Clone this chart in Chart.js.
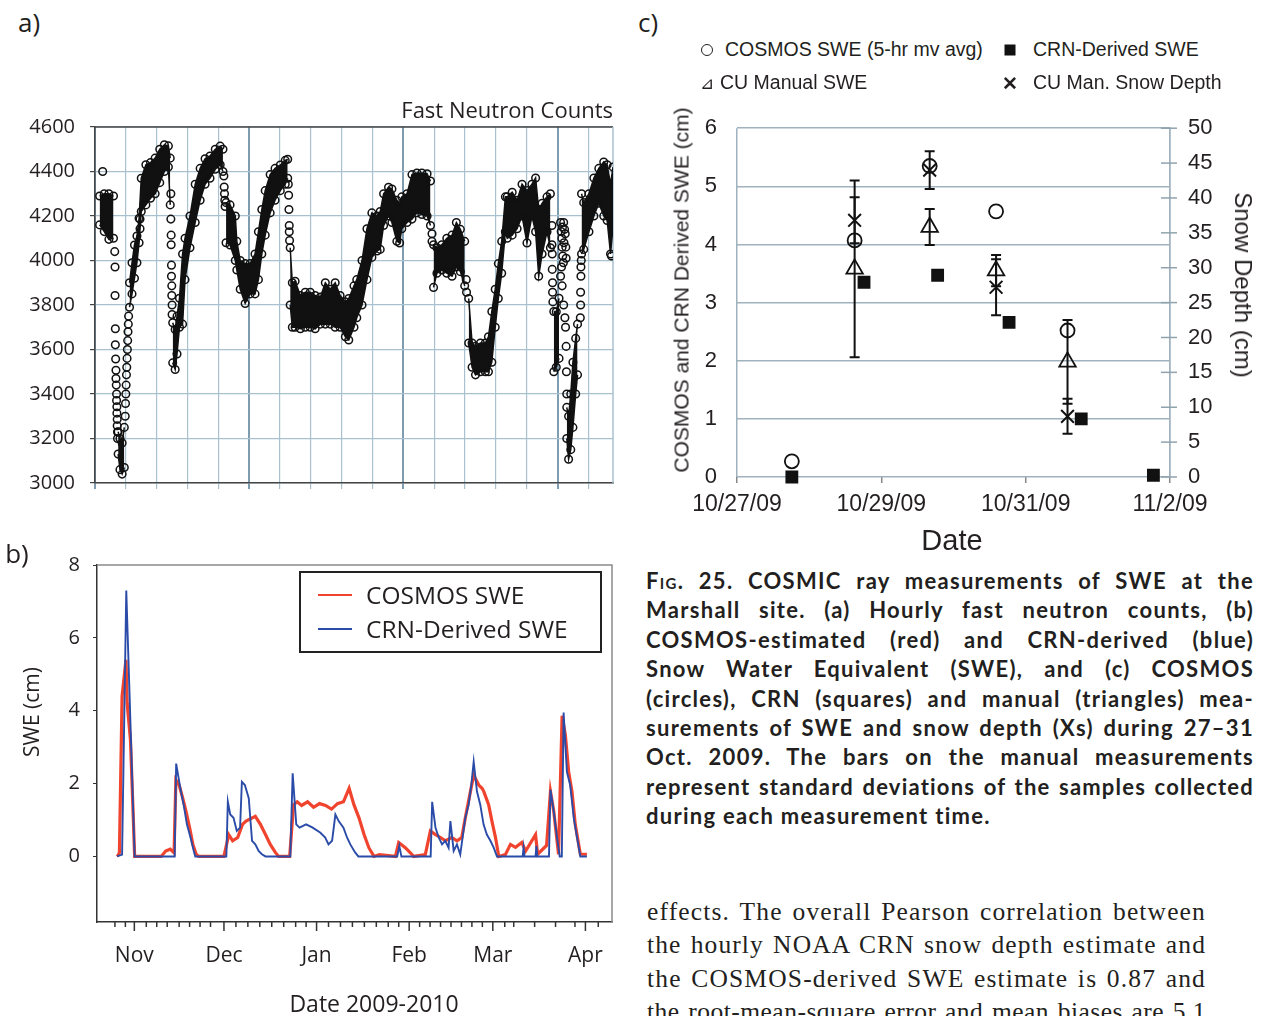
<!DOCTYPE html>
<html>
<head>
<meta charset="utf-8">
<script src="https://cdn.jsdelivr.net/npm/chart.js@4.4.1/dist/chart.umd.min.js"></script>
<style>
html, body { margin: 0; padding: 0; background: #fff; }
body { width: 1266px; height: 1016px; position: relative; overflow: hidden; font-family: 'Open Sans', sans-serif; color: #231f20; }
canvas { position: absolute; }
.t { position: absolute; white-space: nowrap; line-height: 1; }
.mid { transform: translate(-50%, -50%); }
.lft { transform: translateY(-50%); }
.rot { transform: translate(-50%, -50%) rotate(-90deg); }
.rotcw { transform: translate(-50%, -50%) rotate(90deg); }
.arial { font-family: 'Liberation Sans', Arial, sans-serif; }
.j { position: absolute; white-space: nowrap; line-height: 1; text-align: justify; text-align-last: justify; transform: translateY(-50%); transform-origin: left center; }
.cap { font-family: Lato, 'Open Sans', sans-serif; font-weight: 700; font-size: 22px; left: 646px; width: 608px; }
.body { font-family: 'Liberation Serif', serif; font-size: 25.5px; left: 647px; width: 559px; }
.sc { font-variant: small-caps; }
#legendB { position: absolute; left: 299px; top: 571px; width: 299px; height: 78px; border: 2px solid #222; }
.lkey { position: absolute; left: 17px; width: 34px; height: 0; border-top: 2.5px solid; }
</style>
</head>
<body>
<canvas id="chartA" width="625" height="410" style="left:0;top:100px"></canvas>
<canvas id="chartB" width="625" height="476" style="left:0;top:540px"></canvas>
<canvas id="chartC" width="626" height="430" style="left:640px;top:95px"></canvas>

<div class="t mid" style="left:29px;top:22px;font-size:26px">a)</div>
<div class="t lft" style="right:653px;top:109px;font-size:22px">Fast Neutron Counts</div>
<div class="t mid" style="left:17px;top:553px;font-size:26px">b)</div>
<div class="t rot" style="left:31px;top:712px;font-size:21px">SWE (cm)</div>
<div class="t mid" style="left:374px;top:1003px;font-size:23px">Date 2009-2010</div>
<div id="legendB">
  <div class="lkey" style="top:21px;border-color:#f0442e"></div>
  <div class="t lft" style="left:65px;top:22px;font-size:24.5px">COSMOS SWE</div>
  <div class="lkey" style="top:55px;border-color:#2a4ba8"></div>
  <div class="t lft" style="left:65px;top:56px;font-size:24.5px">CRN-Derived SWE</div>
</div>

<div class="t mid" style="left:648px;top:22px;font-size:26px">c)</div>
<div class="t mid" style="left:707px;top:50px;width:10px;height:10px;border:1.6px solid #222;border-radius:50%"></div>
<div class="t lft arial" style="left:725px;top:50px;font-size:19.5px">COSMOS SWE (5-hr mv avg)</div>
<div class="t mid" style="left:1010px;top:50px;width:11px;height:11px;background:#111"></div>
<div class="t lft arial" style="left:1033px;top:50px;font-size:19.5px">CRN-Derived SWE</div>
<div class="t lft arial" style="left:700px;top:83px;font-size:17px">⊿</div>
<div class="t lft arial" style="left:720px;top:83px;font-size:19.5px">CU Manual SWE</div>
<div class="t mid arial" style="left:1010px;top:83px;font-size:19px;font-weight:700">✕</div>
<div class="t lft arial" style="left:1033px;top:83px;font-size:19.5px">CU Man. Snow Depth</div>
<div class="t rot arial" style="left:681px;top:290px;font-size:21px">COSMOS and CRN Derived SWE (cm)</div>
<div class="t rotcw arial" style="left:1243px;top:285px;font-size:24px">Snow Depth (cm)</div>
<div class="t mid arial" style="left:952px;top:540px;font-size:29px">Date</div>

<div class="j cap" style="top:581px"><span class="sc">Fig.</span> 25. COSMIC ray measurements of SWE at the</div>
<div class="j cap" style="top:610px">Marshall site. (a) Hourly fast neutron counts, (b)</div>
<div class="j cap" style="top:640px">COSMOS-estimated (red) and CRN-derived (blue)</div>
<div class="j cap" style="top:669px">Snow Water Equivalent (SWE), and (c) COSMOS</div>
<div class="j cap" style="top:699px">(circles), CRN (squares) and manual (triangles) mea-</div>
<div class="j cap" style="top:728px">surements of SWE and snow depth (Xs) during 27–31</div>
<div class="j cap" style="top:757px">Oct. 2009. The bars on the manual measurements</div>
<div class="j cap" style="top:787px">represent standard deviations of the samples collected</div>
<div class="j cap last" style="top:816px;text-align-last:left">during each measurement time.</div>

<div class="j body" style="top:912px">effects. The overall Pearson correlation between</div>
<div class="j body" style="top:945px">the hourly NOAA CRN snow depth estimate and</div>
<div class="j body" style="top:979px">the COSMOS-derived SWE estimate is 0.87 and</div>
<div class="j body" style="top:1012px">the root-mean-square error and mean biases are 5.1</div>

<script>
'use strict';

// Panel a: hourly fast neutron counts. The dense cloud of circles is read
// as a band (low / high edge) per x position; null breaks the band.
var aDay = [1.5, 3.0, 4.5, 6.0, 6.3, 7.5, 8.1, 8.8, 9.5, 9.8,
  11.2, 12.0, 12.8, 13.6, 14.3, 15.0, 16.5, 18.0, 19.5, 21.0,
  22.5, 23.8, 24.4, 24.8, 25.2, 26.0, 26.6, 27.4, 28.4, 29.2,
  30.8, 32.5, 34.1, 35.7, 37.3, 39.0, 40.6, 41.5, 41.8, 42.5,
  43.8, 45.5, 46.0, 47.1, 48.7, 50.3, 51.9, 53.0, 54.1, 55.2,
  56.8, 58.4, 60.1, 61.7, 62.5, 62.6, 63.3, 64.0, 64.9, 66.6,
  68.2, 69.8, 71.4, 73.1, 74.7, 76.3, 77.9, 79.5, 81.2, 82.3,
  84.0, 84.9, 86.6, 88.2, 89.8, 91.5, 92.5, 93.6, 95.2, 96.3,
  97.9, 98.8, 99.5, 101.2, 102.8, 104.4, 106.0, 107.7, 108.8, 109.3,
  109.8, 110.9, 112.5, 114.1, 115.8, 117.2, 118.5, 119.9, 120.3, 121.2,
  122.3, 123.4, 125.0, 126.6, 127.6, 128.7, 129.8, 130.8, 131.9, 133.1,
  133.7, 135.3, 136.9, 138.5, 140.1, 141.7, 142.9, 143.9, 145.0, 146.6,
  147.7, 148.0, 148.8, 149.6, 150.5, 151.0, 153.0, 153.6, 154.3, 155.0,
  155.9, 156.5, 157.2, 157.8, 158.5, 160.2, 161.8, 163.4, 165.0, 166.1,
  167.2, 168.0];
var aLo = [4160, 4130, 4095, 4100, null, 3130, 3060, 3040, 3070, null,
  3790, 3850, 3920, 3990, 4080, 4220, 4250, 4280, 4300, 4350,
  4400, 4420, 4250, null, 3540, 3510, 3580, 3700, 3714, 3914,
  4057, 4171, 4271, 4343, 4370, 4410, 4430, 4400, null, 4080,
  4070, 4000, 3957, 3871, 3807, 3850, 3850, 3914, 4029, 4114,
  4214, 4271, 4314, 4343, 4370, null, 3800, 3700, 3700, 3693,
  3700, 3700, 3693, 3714, 3714, 3714, 3700, 3700, 3657, 3643,
  3700, 3743, 3800, 3914, 4014, 4043, 4050, 4157, 4200, 4171,
  4086, 4079, 4143, 4171, 4186, 4214, 4207, 4200, 4157, null,
  3879, 3943, 3957, 3943, 3929, 3971, 3950, 3886, null, 3629,
  3520, 3486, 3500, 3500, 3500, 3543, 3700, 3829, 3943, 4129,
  4100, 4114, 4143, 4200, 4079, 4200, 4129, 3929, 4029, 4129,
  4057, null, 3500, 3520, 3560, null, 3200, 3107, 3150, 3250,
  3400, 3486, null, 4029, 4050, 4129, 4200, 4257, 4200, 4180,
  4029, 4150];
var aHi = [4290, 4300, 4300, 4290, null, 3230, 3200, 3180, 3250, null,
  3900, 3990, 4070, 4110, 4190, 4370, 4430, 4440, 4460, 4500,
  4520, 4515, 4460, null, 3720, 3690, 3750, 3830, 4029, 4100,
  4200, 4343, 4414, 4457, 4470, 4500, 4514, 4500, null, 4260,
  4250, 4200, 4086, 4000, 3986, 3986, 4029, 4129, 4229, 4314,
  4386, 4414, 4429, 4450, 4455, null, 4057, 3900, 3907, 3843,
  3857, 3857, 3843, 3836, 3900, 3871, 3900, 3843, 3814, 3829,
  3886, 3914, 4000, 4143, 4214, 4200, 4220, 4300, 4329, 4321,
  4271, 4250, 4286, 4300, 4386, 4393, 4393, 4390, 4357, null,
  4071, 4057, 4071, 4100, 4114, 4171, 4140, 4086, null, 3829,
  3629, 3614, 3629, 3629, 3657, 3771, 3871, 3986, 4086, 4286,
  4286, 4307, 4271, 4343, 4314, 4343, 4371, 4229, 4257, 4286,
  4300, null, 3771, 3770, 3830, null, 3340, 3300, 3400, 3543,
  3650, 3714, null, 4300, 4260, 4300, 4371, 4414, 4443, 4430,
  4343, 4420];
// isolated circles in the fast drops and rises
var aSparseDay = [2.5, 6.4, 6.5, 6.5, 6.6, 6.6, 6.7, 6.8, 6.8, 6.9, 7.0, 7.0, 7.1, 7.1, 7.2, 7.2, 7.3, 7.3,
  9.8, 9.9, 10.0, 10.1, 10.2, 10.3, 10.4, 10.5, 10.6, 10.7, 10.8, 10.9, 14.6, 14.6,
  24.6, 24.6, 24.7, 24.7, 24.8, 24.8, 24.9, 24.9, 25.0, 25.0,
  41.8, 41.9, 42.0, 42.1, 42.2, 62.7, 62.8, 62.9, 63.0, 63.0, 63.1,
  109.3, 109.3, 120.4, 120.5,
  148.2, 148.2, 148.3, 148.3, 148.4, 148.4, 148.5,
  151.0, 151.2, 151.4, 151.5, 151.7, 151.9, 152.1, 152.3, 152.5, 152.7, 152.8, 151.3, 151.6, 152.0,
  151.0, 151.5, 152.0, 152.4, 152.6, 152.8, 152.9, 153.0,
  157.4, 157.5, 157.5, 157.6, 157.6, 157.7, 167.5];
var aSparseCount = [4400, 4040, 3971, 3843, 3693, 3621, 3557, 3507, 3470, 3440, 3400, 3371, 3343, 3314, 3286, 3257, 3229, 3200,
  3300, 3357, 3400, 3440, 3486, 3520, 3560, 3600, 3640, 3680, 3714, 3750, 4186, 4143,
  4300, 4186, 4114, 4071, 3979, 3929, 3886, 3843, 3800, 3757,
  4380, 4330, 4300, 4271, 4243, 4343, 4293, 4229, 4157, 4129, 4090,
  4120, 4086, 3914, 3857,
  4157, 4071, 4029, 3960, 3900, 3857, 3814,
  4171, 4130, 4100, 4060, 4020, 3990, 4080, 4140, 4120, 4060, 4010, 3971, 4150, 4171,
  3929, 3886, 3800, 3743, 3700, 3614, 3500, 3400,
  3743, 3800, 3857, 3929, 3971, 4000, 4020];

// Panel b: SWE time series, x = days after 1 Oct 2009
var bRedDay = [25.3, 26.0, 26.9, 28.2, 28.6, 29.7, 30.5, 31.1, 40.0, 41.5, 43.0, 44.3,
  44.9, 46.0, 47.2, 48.3, 49.5, 50.6, 51.7, 52.5, 61.0, 62.6, 63.9, 65.6, 67.2, 68.4,
  71.5, 73.2, 74.9, 76.5, 78.2, 79.3, 83.0, 84.3, 85.5, 87.0, 89.0, 91.0, 93.0, 95.0, 97.0, 99.0, 101.0,
  102.9, 104.5, 106.2, 107.9, 109.5, 111.2, 113.0, 118.4, 119.5, 121.7, 123.4, 124.5,
  128.4, 130.1, 131.8, 133.5, 135.1, 137.3, 139.0, 140.6,
  141.8, 143.5, 144.6, 146.3, 147.4, 148.0, 149.6, 150.7, 151.9, 153.0,
  155.2, 156.9, 158.6, 160.7, 162.0, 165.3, 166.0, 169.0, 170.3, 171.4, 173.0,
  174.2, 175.3, 176.4, 177.5, 178.6, 180.3, 182.5];
var bRedSwe = [0, 0.1, 4.4, 5.4, 4.2, 3.2, 1.4, 0, 0, 0.15, 0.2, 0.1,
  2.1, 1.96, 1.6, 1.24, 0.79, 0.33, 0.06, 0, 0, 0.6, 0.43, 0.52, 0.88, 0.97,
  1.1, 0.88, 0.6, 0.33, 0.11, 0, 0, 1.42, 1.5, 1.4, 1.5, 1.35, 1.45, 1.4, 1.3, 1.45, 1.5,
  1.87, 1.42, 1.06, 0.6, 0.24, 0, 0.05, 0, 0.38, 0.24, 0.1, 0,
  0.05, 0.7, 0.6, 0.52, 0.43, 0.52, 0.43, 0.52,
  1.06, 1.78, 2.23, 1.96, 1.87, 1.78, 1.42, 0.97, 0.52, 0,
  0.05, 0.33, 0.25, 0.38, 0.15, 0.6, 0.06, 0.3, 1.78, 1.24, 0.06,
  3.86, 3.32, 2.32, 1.78, 0.88, 0.06, 0.06];
var bBlueDay = [25.2, 26.9, 28.3, 31.1, 44.5, 45.0, 46.4, 47.5, 48.6, 49.8, 50.9, 51.4,
  61.8, 62.3, 63.1, 64.2, 65.3, 66.4, 67.0, 68.0, 69.3, 70.4, 71.5, 72.6, 73.7, 74.9,
  83.2, 84.0, 85.2, 86.3, 88.5, 90.7, 93.3, 94.9, 96.0, 97.2, 98.3, 99.4, 101.0, 102.2, 103.3, 104.9, 106.0,
  119.0, 119.7, 120.4, 130.2, 130.7, 131.8, 132.9, 134.0, 135.1, 136.2, 136.8, 137.9, 139.0, 140.1,
  141.8, 142.9, 143.8, 144.6, 145.7, 146.8, 147.9, 149.0, 150.2, 151.3, 152.4,
  161.0, 161.3, 161.6, 165.3, 165.6, 165.9, 169.8, 170.3, 171.4, 172.5, 173.4,
  174.1, 174.7, 175.8, 176.9, 178.1, 179.2, 180.3, 182.5];
var bBlueSwe = [0, 0.05, 7.3, 0, 0, 2.55, 1.87, 1.42, 0.88, 0.52, 0.15, 0,
  0, 1.5, 1.15, 1.06, 0.7, 0.79, 2.05, 1.96, 1.6, 0.43, 0.33, 0.15, 0.06, 0,
  0, 2.28, 0.88, 0.79, 0.88, 0.79, 0.65, 0.52, 0.33, 0.43, 1.15, 0.97, 0.79, 0.52, 0.33, 0.11, 0,
  0, 0.29, 0, 0, 1.5, 0.79, 0.52, 0.33, 0.43, 0.24, 0.97, 0.15, 0.33, 0.05,
  1.06, 1.42, 1.96, 2.6, 1.78, 1.42, 0.88, 0.6, 0.43, 0.24, 0,
  0, 0.24, 0, 0, 0.29, 0, 0, 1.83, 1.24, 0.52, 0,
  0, 3.95, 2.32, 1.96, 1.06, 0.52, 0, 0];
var bMonthDay = [31, 61, 92, 123, 151, 182];
var bMonthLabel = ['Nov', 'Dec', 'Jan', 'Feb', 'Mar', 'Apr'];
var bMinorDay = [24.5, 28, 35, 38.5, 42, 46, 49.5, 53, 56.5, 65, 69, 73, 77, 81, 85, 88.5,
  96, 100, 104, 108, 112, 116, 119.5, 126.5, 130, 133.5, 137, 140.5, 144, 147.5,
  155, 158, 165, 172, 178.5, 186.3];
var bSweTicks = [0, 2, 4, 6, 8];

// Panel c: x = days after 27 Oct 2009 00:00
var cDateLabel = ['10/27/09', '10/29/09', '10/31/09', '11/2/09'];
var cCircleDay = [0.76, 1.63, 2.67, 3.59, 4.58];
var cCircleSwe = [0.27, 4.07, 5.35, 4.57, 2.52];
var cTriDay = [1.63, 2.67, 3.59, 4.58];
var cTriSwe = [3.58, 4.3, 3.55, 1.98];
var cTriErr = [1.52, 0.31, 0.27, 0.72];
var cSquareDay = [0.76, 1.76, 2.78, 3.77, 4.77, 5.77];
var cSquareSwe = [0, 3.35, 3.47, 2.66, 1.0, 0.03];
var cCrossDay = [1.63, 2.67, 3.59, 4.58];
var cCrossDepth = [36.8, 44.0, 27.2, 8.7];
var cCrossErr = [3.3, 2.7, 4.0, 2.5];

function pts(xs, ys) {
  return xs.map(function (x, i) {
    return { x: x, y: ys[i] };
  });
}

var ink = '#231f20';
var gridA = '#a9c1cf', gridAMajor = '#7f9db0';
var gridC = '#9fb2bd';
var clear = 'rgba(0,0,0,0)';

// ---- panel a ----
var frameA = {
  id: 'frameA',
  beforeDatasetsDraw: function (chart) {
    var a = chart.chartArea, ctx = chart.ctx;
    ctx.save();
    ctx.lineWidth = 1.5;
    ctx.strokeStyle = '#444';
    ctx.beginPath();
    ctx.moveTo(a.left, a.top);
    ctx.lineTo(a.right, a.top);
    ctx.stroke();
    ctx.strokeStyle = gridA;
    ctx.beginPath();
    ctx.moveTo(a.right, a.top);
    ctx.lineTo(a.right, a.bottom);
    ctx.stroke();
    ctx.restore();
  }
};

var circleA = {
  pointStyle: 'circle',
  pointRadius: 3.8,
  pointBorderWidth: 1.5,
  pointBorderColor: '#111',
  pointBackgroundColor: clear
};

new Chart(document.getElementById('chartA'), {
  type: 'line',
  data: {
    datasets: [
      Object.assign({ data: pts(aSparseDay, aSparseCount), showLine: false }, circleA),
      Object.assign({ data: pts(aDay, aLo), borderColor: '#111', borderWidth: 1.5, fill: false, spanGaps: false }, circleA),
      Object.assign({ data: pts(aDay, aHi), borderColor: '#111', borderWidth: 1.5, fill: '-1', backgroundColor: '#111', spanGaps: false }, circleA)
    ]
  },
  options: {
    responsive: false,
    animation: false,
    layout: { padding: { top: 25, right: 12, left: 0, bottom: 0 } },
    plugins: { legend: { display: false }, tooltip: { enabled: false } },
    scales: {
      x: {
        type: 'linear', min: 0, max: 168,
        afterBuildTicks: function (s) {
          var t = [];
          for (var v = 0; v <= 160; v += 10) t.push({ value: v });
          s.ticks = t;
        },
        afterFit: function (s) { s.height = 13; },
        ticks: { display: false },
        grid: {
          color: function (c) { return c.tick && c.tick.value % 50 === 0 ? gridAMajor : gridA; },
          lineWidth: function (c) { return c.tick && c.tick.value % 50 === 0 ? 2 : 1.2; },
          drawTicks: true, tickLength: 6
        },
        border: { display: true, color: '#444', width: 1.5 }
      },
      y: {
        min: 3000, max: 4600,
        afterFit: function (s) { s.width = 95; },
        ticks: {
          stepSize: 200, padding: 15, color: ink, font: { family: 'Open Sans', size: 20 },
          callback: function (v) { return String(v); }
        },
        grid: { color: gridA, lineWidth: 1.2, tickLength: 5, tickColor: '#444' },
        border: { display: true, color: '#444', width: 1.5 }
      }
    }
  },
  plugins: [frameA]
});

// ---- panel b ----
var frameB = {
  id: 'frameB',
  afterDraw: function (chart) {
    var a = chart.chartArea, ctx = chart.ctx, s = chart.scales.x;
    ctx.save();
    ctx.lineWidth = 1.5;
    ctx.strokeStyle = '#8a8a8a';
    ctx.beginPath();
    ctx.moveTo(a.left, a.top);
    ctx.lineTo(a.right, a.top);
    ctx.lineTo(a.right, a.bottom);
    ctx.stroke();
    ctx.strokeStyle = '#333';
    s.ticks.forEach(function (t) {
      var x = s.getPixelForValue(t.value);
      var len = bMonthDay.indexOf(t.value) >= 0 ? 9 : 5;
      ctx.beginPath();
      ctx.moveTo(x, a.bottom);
      ctx.lineTo(x, a.bottom + len);
      ctx.stroke();
    });
    ctx.restore();
  }
};

new Chart(document.getElementById('chartB'), {
  type: 'line',
  data: {
    datasets: [
      { label: 'CRN-Derived SWE', data: pts(bBlueDay, bBlueSwe), borderColor: '#2a4ba8', borderWidth: 1.9, pointRadius: 0 },
      { label: 'COSMOS SWE', data: pts(bRedDay, bRedSwe), borderColor: '#f0442e', borderWidth: 3.2, pointRadius: 0 }
    ]
  },
  options: {
    responsive: false,
    animation: false,
    layout: { padding: { top: 21, right: 13, left: 0, bottom: 0 } },
    plugins: { legend: { display: false }, tooltip: { enabled: false } },
    scales: {
      x: {
        type: 'linear', min: 18.5, max: 190.9,
        afterBuildTicks: function (s) {
          s.ticks = bMonthDay.concat(bMinorDay).sort(function (p, q) { return p - q; })
            .map(function (v) { return { value: v }; });
        },
        afterFit: function (s) { s.height = 94; },
        ticks: {
          autoSkip: false, maxRotation: 0, padding: 21, color: ink,
          font: { family: 'Open Sans', size: 21 },
          callback: function (v) {
            var i = bMonthDay.indexOf(v);
            return i >= 0 ? bMonthLabel[i] : '';
          }
        },
        grid: { display: false, drawTicks: false },
        border: { display: true, color: '#333', width: 1.5 }
      },
      y: {
        min: -1.8, max: 8,
        afterBuildTicks: function (s) {
          s.ticks = bSweTicks.map(function (v) { return { value: v }; });
        },
        afterFit: function (s) { s.width = 97; },
        ticks: { padding: 13, color: ink, font: { family: 'Open Sans', size: 20 } },
        grid: { drawOnChartArea: false, drawTicks: true, tickLength: 4, color: '#333' },
        border: { display: true, color: '#333', width: 1.5 }
      }
    }
  },
  plugins: [frameB]
});

// ---- panel c ----
function drawErrorBars(ctx, xScale, yScale, xs, ys, errs) {
  xs.forEach(function (d, i) {
    var x = xScale.getPixelForValue(d);
    var top = yScale.getPixelForValue(ys[i] + errs[i]);
    var bot = yScale.getPixelForValue(ys[i] - errs[i]);
    ctx.beginPath();
    ctx.moveTo(x, top);
    ctx.lineTo(x, bot);
    ctx.moveTo(x - 5, top);
    ctx.lineTo(x + 5, top);
    ctx.moveTo(x - 5, bot);
    ctx.lineTo(x + 5, bot);
    ctx.stroke();
  });
}

var extrasC = {
  id: 'extrasC',
  beforeDatasetsDraw: function (chart) {
    var ctx = chart.ctx, s = chart.scales.y2, xr = chart.chartArea.right;
    ctx.save();
    // crossing tick marks on the snow depth axis
    ctx.strokeStyle = '#8fa3ae';
    ctx.lineWidth = 1.5;
    s.ticks.forEach(function (t) {
      var y = s.getPixelForValue(t.value);
      ctx.beginPath();
      ctx.moveTo(xr - 9, y);
      ctx.lineTo(xr + 7, y);
      ctx.stroke();
    });
    ctx.strokeStyle = '#111';
    ctx.lineWidth = 2;
    drawErrorBars(ctx, chart.scales.x, chart.scales.y, cTriDay, cTriSwe, cTriErr);
    drawErrorBars(ctx, chart.scales.x, chart.scales.y2, cCrossDay, cCrossDepth, cCrossErr);
    ctx.restore();
  }
};

var markC = { showLine: false, clip: false, pointBorderColor: '#111', pointBorderWidth: 1.8, pointBackgroundColor: clear };

new Chart(document.getElementById('chartC'), {
  type: 'line',
  data: {
    datasets: [
      Object.assign({ label: 'COSMOS SWE (5-hr mv avg)', data: pts(cCircleDay, cCircleSwe), pointStyle: 'circle', pointRadius: 7 }, markC),
      Object.assign({ label: 'CU Manual SWE', data: pts(cTriDay, cTriSwe), pointStyle: 'triangle', pointRadius: 9.5 }, markC),
      Object.assign({ label: 'CU Man. Snow Depth', data: pts(cCrossDay, cCrossDepth), yAxisID: 'y2', pointStyle: 'crossRot', pointRadius: 9 }, markC, { pointBorderWidth: 2 }),
      Object.assign({ label: 'CRN-Derived SWE', data: pts(cSquareDay, cSquareSwe), pointStyle: 'rect', pointRadius: 7.8 }, markC, { pointBackgroundColor: '#111' })
    ]
  },
  options: {
    responsive: false,
    animation: false,
    layout: { padding: { top: 18, right: 0, left: 0, bottom: 0 } },
    plugins: { legend: { display: false }, tooltip: { enabled: false } },
    scales: {
      x: {
        type: 'linear', min: 0, max: 6,
        afterFit: function (s) { s.height = 48; },
        ticks: {
          stepSize: 2, maxRotation: 0, padding: 8, color: ink,
          font: { family: 'Liberation Sans', size: 23 },
          callback: function (v) { return cDateLabel[v / 2]; }
        },
        grid: {
          color: function (c) { return c.tick && (c.tick.value === 0 || c.tick.value === 6) ? gridC : clear; },
          lineWidth: 1.5, drawTicks: true, tickLength: 6, tickColor: '#888'
        },
        border: { display: false }
      },
      y: {
        position: 'left', min: 0, max: 6,
        afterFit: function (s) { s.width = 97; },
        ticks: { stepSize: 1, padding: 20, color: ink, font: { family: 'Liberation Sans', size: 22 } },
        grid: { color: gridC, lineWidth: 1.5, drawTicks: false },
        border: { display: false }
      },
      y2: {
        position: 'right', min: 0, max: 50,
        afterFit: function (s) { s.width = 96; },
        ticks: { stepSize: 5, padding: 18, color: ink, font: { family: 'Liberation Sans', size: 22 } },
        grid: { drawOnChartArea: false, drawTicks: false },
        border: { display: true, color: gridC, width: 1.5 }
      }
    }
  },
  plugins: [extrasC]
});

// Justified text: widen letter spacing a little so the word gaps stay close
// to the printed page, then let text-align-last spread the rest.
function naturalWidth(el) {
  var probe = document.createElement('span');
  probe.style.cssText = 'position:absolute;visibility:hidden;white-space:nowrap;letter-spacing:inherit;';
  probe.textContent = el.textContent;
  el.appendChild(probe);
  var w = probe.getBoundingClientRect().width;
  el.removeChild(probe);
  return w;
}

function fitLines(selector, maxSpacing) {
  var used = [];
  var lines = document.querySelectorAll(selector);
  lines.forEach(function (el) {
    if (el.classList.contains('last')) return;
    var target = el.getBoundingClientRect().width - 12;
    var n = el.textContent.length;
    var ls = Math.max(-0.5, Math.min(maxSpacing, (target - naturalWidth(el)) / n));
    el.style.letterSpacing = ls + 'px';
    used.push(ls);
    var natural = naturalWidth(el);
    var w = el.getBoundingClientRect().width;
    if (natural > w) {
      el.style.width = natural + 'px';
      el.style.transform = 'translateY(-50%) scaleX(' + (w / natural) + ')';
    }
  });
  var mean = used.reduce(function (a, b) { return a + b; }, 0) / Math.max(1, used.length);
  lines.forEach(function (el) {
    if (el.classList.contains('last')) el.style.letterSpacing = mean + 'px';
  });
}

fitLines('.cap', 1.3);
fitLines('.body', 1.3);
</script>
</body>
</html>
